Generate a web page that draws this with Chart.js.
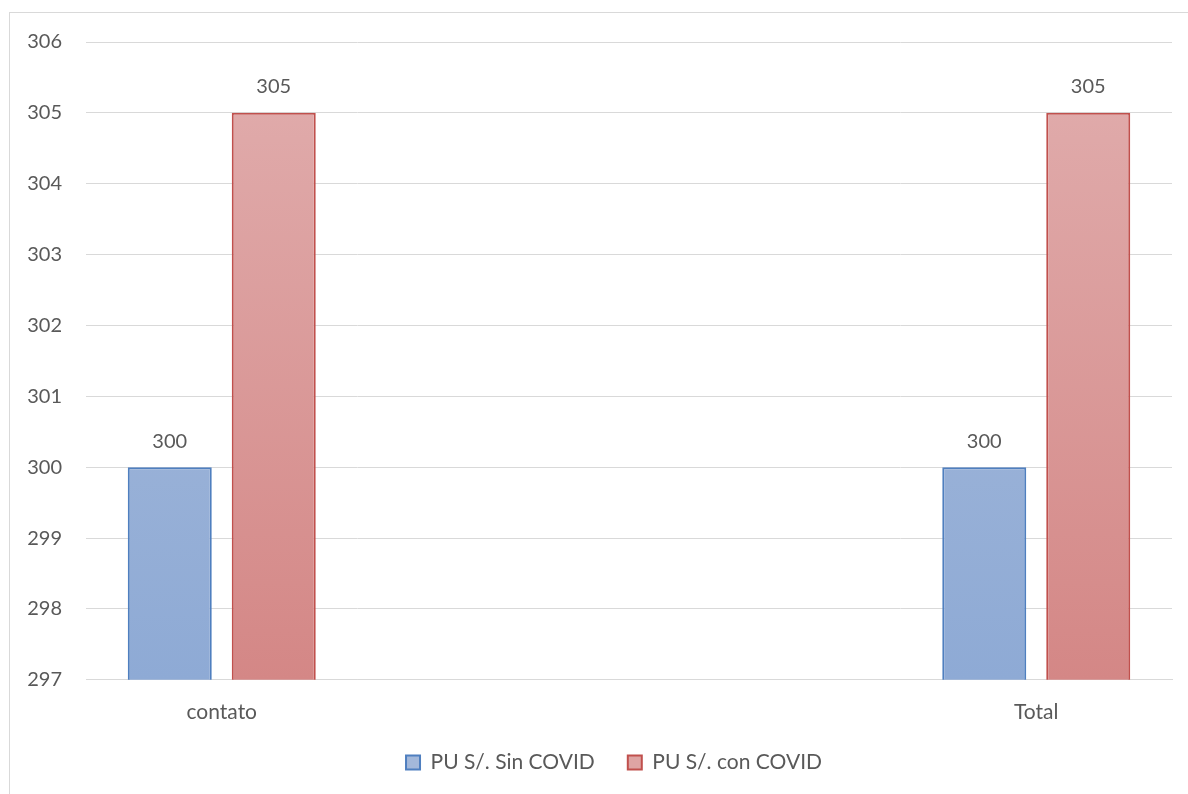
<!DOCTYPE html>
<html>
<head>
<meta charset="utf-8">
<script src="https://cdn.jsdelivr.net/npm/chart.js@4.4.1/dist/chart.umd.min.js"></script>
<style>
    html, body { margin: 0; padding: 0; background: #fff; overflow: hidden; }
    #frame {
        position: absolute; left: 9px; top: 12px;
        width: 1300px; height: 900px;
        border: 1px solid #d9d9d9;
    }
    #wrap { position: absolute; left: 0; top: 0; width: 1188px; height: 794px; }
</style>
</head>
<body>
<div id="frame"></div>
<div id="wrap"><canvas id="chart"></canvas></div>
<script>
// Precio unitario con / sin COVID
const categories = ['contato', '', '', 'Total'];
const sinCovid = [300, null, null, 300];
const conCovid = [305, null, null, 305];
const seriesNames = ['PU S/. Sin COVID', 'PU S/. con COVID'];
const yTicks = { min: 297, max: 306, step: 1 };

const FONT = "Lato, 'Open Sans', sans-serif";
const TEXT = '#595959';
const GRID = '#d9d9d9';

function vertGradient(top, bottom) {
    return (ctx) => {
        const area = ctx.chart.chartArea;
        if (!area) return bottom;
        const g = ctx.chart.ctx.createLinearGradient(0, area.top, 0, area.bottom);
        g.addColorStop(0, top);
        g.addColorStop(1, bottom);
        return g;
    };
}

// etiquetas de valor encima de cada barra
const valueLabels = {
    id: 'valueLabels',
    afterDatasetsDraw(chart) {
        const c = chart.ctx;
        c.save();
        c.font = `20px ${FONT}`;
        c.fillStyle = TEXT;
        c.textAlign = 'center';
        c.textBaseline = 'middle';
        chart.data.datasets.forEach((ds, i) => {
            chart.getDatasetMeta(i).data.forEach((bar, j) => {
                const v = ds.data[j];
                if (v == null) return;
                c.fillText(String(v), bar.x, bar.y - 26);
            });
        });
        c.restore();
    }
};

// leyenda: reserva poca altura en el layout y luego se recoloca su caja
const LEGEND_H = 49;
const LEGEND_TOP = 719;
const LEGEND_SHIFT_X = 28;
const legendPlacement = {
    id: 'legendPlacement',
    beforeLayout(chart) {
        const lg = chart.legend;
        if (!lg || lg._fixedFit) return;
        const fit = lg.fit.bind(lg);
        lg.fit = function () { fit(); this.height = LEGEND_H; };
        lg._fixedFit = true;
    },
    afterLayout(chart) {
        const lg = chart.legend;
        if (!lg) return;
        lg.left += LEGEND_SHIFT_X;
        lg.right += LEGEND_SHIFT_X;
        lg.top = LEGEND_TOP;
        lg.bottom = chart.height;
        lg.height = lg.bottom - lg.top;
    }
};

new Chart(document.getElementById('chart'), {
    type: 'bar',
    data: {
        labels: categories,
        datasets: [
            {
                label: seriesNames[0],
                data: sinCovid,
                backgroundColor: vertGradient('#abbddb', '#8eaad5'),
                borderColor: '#4f7fbf',
                borderWidth: 2,
                categoryPercentage: 0.766,
                barPercentage: 0.808,
            },
            {
                label: seriesNames[1],
                data: conCovid,
                backgroundColor: vertGradient('#e1aeae', '#d48786'),
                borderColor: '#c0504d',
                borderWidth: 2,
                categoryPercentage: 0.766,
                barPercentage: 0.808,
            },
        ],
    },
    options: {
        responsive: true,
        maintainAspectRatio: false,
        animation: false,
        layout: { padding: { top: 42, right: 16, left: 0, bottom: 0 } },
        scales: {
            x: {
                grid: { display: false, drawTicks: false },
                border: { color: GRID, width: 1 },
                ticks: { color: TEXT, font: { size: 21, family: FONT }, padding: 20, maxRotation: 0 },
            },
            y: {
                min: yTicks.min,
                max: yTicks.max,
                grid: { color: GRID, lineWidth: 1, drawTicks: false },
                border: { display: false },
                ticks: {
                    stepSize: yTicks.step,
                    color: TEXT,
                    font: { size: 20, family: FONT },
                    padding: 24,
                },
                afterFit: (scale) => { scale.width = 86; },
            },
        },
        plugins: {
            legend: {
                position: 'bottom',
                labels: {
                    color: TEXT,
                    font: { size: 21, family: FONT },
                    boxWidth: 14,
                    boxHeight: 14,
                    padding: 33,
                    generateLabels: (chart) => chart.data.datasets.map((ds, i) => ({
                        text: ds.label,
                        fillStyle: i === 0 ? '#a3b8da' : '#dea4a3',
                        strokeStyle: ds.borderColor,
                        lineWidth: 2,
                        fontColor: TEXT,
                        datasetIndex: i,
                    })),
                },
            },
            tooltip: { enabled: false },
        },
    },
    plugins: [valueLabels, legendPlacement],
});
</script>
</body>
</html>
